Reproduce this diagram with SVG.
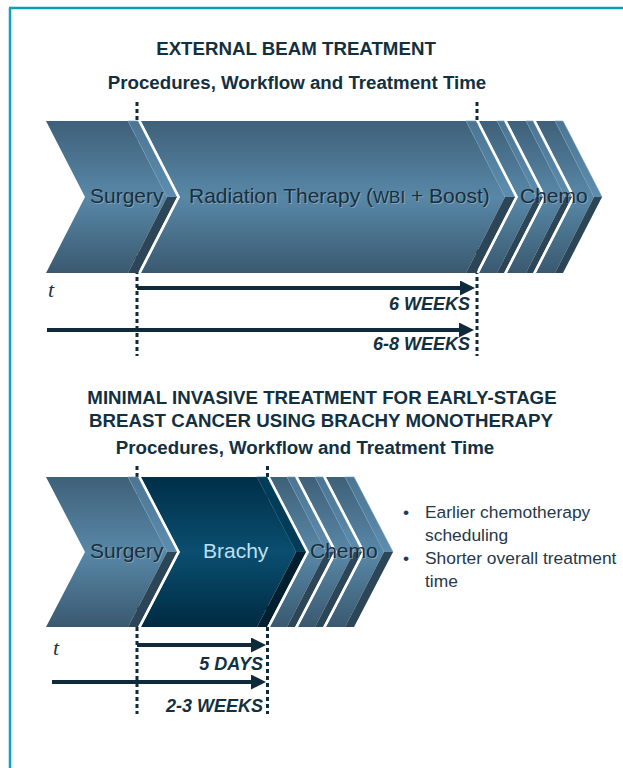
<svg xmlns="http://www.w3.org/2000/svg" width="623" height="768" viewBox="0 0 623 768">
<style>
.title{font-family:"Liberation Sans",Arial,sans-serif;font-weight:bold;font-size:18.7px;fill:#12303f;text-anchor:middle}
.lbl{font-family:"Liberation Sans",Arial,sans-serif;font-size:21px;fill:#1b2e3c}
.shd{font-family:"Liberation Sans",Arial,sans-serif;font-size:21px;fill:#9fbdd0;opacity:0.55}
.dur{font-family:"Liberation Sans",Arial,sans-serif;font-weight:bold;font-style:italic;font-size:18px;fill:#12303f;text-anchor:end}
.tt{font-family:"Liberation Serif","Times New Roman",serif;font-style:italic;font-size:22px;fill:#1e3444}
.bul{font-family:"Liberation Sans",Arial,sans-serif;font-size:17.4px;fill:#26394a}
.face{fill:url(#gFace)}
.up{fill:url(#gUp);stroke:#6f98b4;stroke-width:0.6}
.lo{fill:#2c4557}
.bface{fill:url(#gBr)}
.bup{fill:#033c58;stroke:#0d5573;stroke-width:0.6}
.blo{fill:#00202f}
.gap{fill:none;stroke:#ffffff;stroke-width:2.2}
.dot{stroke:#0f2b3b;stroke-width:3;stroke-dasharray:4 3;fill:none}
.arr{stroke:#0f2b3b;stroke-width:4;fill:none;marker-end:url(#ah)}
</style>
<defs>
<linearGradient id="gFace" x1="0" y1="0" x2="0" y2="1">
<stop offset="0" stop-color="#3f6079"/>
<stop offset="0.5" stop-color="#5888a7"/>
<stop offset="1" stop-color="#3a5970"/>
</linearGradient>
<linearGradient id="gUp" x1="0" y1="0" x2="0" y2="1">
<stop offset="0" stop-color="#4c7592"/>
<stop offset="1" stop-color="#5d8daf"/>
</linearGradient>
<linearGradient id="gBr" x1="0" y1="0" x2="0" y2="1">
<stop offset="0" stop-color="#002f48"/>
<stop offset="0.5" stop-color="#0a4e70"/>
<stop offset="1" stop-color="#002b42"/>
</linearGradient>
<marker id="ah" markerUnits="userSpaceOnUse" markerWidth="16" markerHeight="16" refX="5" refY="7.5" orient="auto">
<path d="M0,0 L15,7.5 L0,15 z" fill="#0f2b3b"/>
</marker>
</defs>
<rect width="623" height="768" fill="#ffffff"/>
<g id="frame">
<line x1="9" y1="8" x2="623" y2="8" stroke="#0b9db5" stroke-width="2.5"/>
<line x1="10" y1="8" x2="10" y2="768" stroke="#0aa5bd" stroke-width="2.5"/>
</g>
<g id="titles">
<text class="title" x="296" y="55">EXTERNAL BEAM TREATMENT</text>
<text class="title" x="297" y="89">Procedures, Workflow and Treatment Time</text>
<text class="title" x="322" y="404">MINIMAL INVASIVE TREATMENT FOR EARLY-STAGE</text>
<text class="title" x="321" y="427">BREAST CANCER USING BRACHY MONOTHERAPY</text>
<text class="title" x="305" y="454">Procedures, Workflow and Treatment Time</text>
</g>
<g id="connectors">
<line class="dot" x1="137" y1="102" x2="137" y2="356"/>
<line class="dot" x1="477" y1="102" x2="477" y2="356"/>
<line class="dot" x1="137" y1="466" x2="137" y2="714"/>
<line class="dot" x1="267.5" y1="466" x2="267.5" y2="714"/>
<line class="arr" x1="137" y1="288" x2="465" y2="288"/>
<line class="arr" x1="47" y1="330" x2="464" y2="330"/>
<line class="arr" x1="137" y1="645" x2="256" y2="645"/>
<line class="arr" x1="52" y1="682" x2="256" y2="682"/>
</g>
<g id="top-surgery">
<polygon class="face" points="46,121 128,121 167,197 128,273 46,273 85,197"/>
<polygon class="up" points="128,121 138,121 177,197 167,197"/>
<polygon class="lo" points="167,197 177,197 138,273 128,273"/>
</g>
<g id="top-radiation">
<polygon class="face" points="141,121 466,121 505,197 466,273 141,273 180,197"/>
<polygon class="up" points="466,121 476,121 515,197 505,197"/>
<polygon class="lo" points="505,197 515,197 476,273 466,273"/>
</g>
<g id="top-chemo">
<polygon class="face" points="479,121 497,121 536,197 497,273 479,273 518,197"/>
<polygon class="up" points="497,121 504,121 543,197 536,197"/>
<polygon class="lo" points="536,197 543,197 504,273 497,273"/>
<polygon class="face" points="507,121 526,121 565,197 526,273 507,273 546,197"/>
<polygon class="up" points="526,121 533,121 572,197 565,197"/>
<polygon class="lo" points="565,197 572,197 533,273 526,273"/>
<polygon class="face" points="536,121 555,121 594,197 555,273 536,273 575,197"/>
<polygon class="up" points="555,121 563,121 602,197 594,197"/>
<polygon class="lo" points="594,197 602,197 563,273 555,273"/>
</g>
<g id="top-gaps">
<polyline class="gap" points="139.5,121 178.5,197 139.5,273"/>
<polyline class="gap" points="477.5,121 516.5,197 477.5,273"/>
<polyline class="gap" points="505.5,121 544.5,197 505.5,273"/>
<polyline class="gap" points="534.5,121 573.5,197 534.5,273"/>
</g>
<g id="top-labels">
<text class="shd" x="91" y="204">Surgery</text>
<text class="lbl" x="90" y="203">Surgery</text>
<text class="shd" x="190" y="204">Radiation Therapy (<tspan font-size="17">WBI</tspan> + Boost)</text>
<text class="lbl" x="189" y="203">Radiation Therapy (<tspan font-size="17">WBI</tspan> + Boost)</text>
<text class="shd" x="521" y="204">Chemo</text>
<text class="lbl" x="520" y="203">Chemo</text>
</g>
<g id="bottom-surgery">
<polygon class="face" points="46,477 128,477 167,552 128,627 46,627 85,552"/>
<polygon class="up" points="128,477 138,477 177,552 167,552"/>
<polygon class="lo" points="167,552 177,552 138,627 128,627"/>
</g>
<g id="bottom-brachy">
<polygon class="bface" points="141,477 257,477 296,552 257,627 141,627 180,552"/>
<polygon class="bup" points="257,477 267,477 306,552 296,552"/>
<polygon class="blo" points="296,552 306,552 267,627 257,627"/>
</g>
<g id="bottom-chemo">
<polygon class="face" points="270,477 287,477 326,552 287,627 270,627 309,552"/>
<polygon class="up" points="287,477 295,477 334,552 326,552"/>
<polygon class="lo" points="326,552 334,552 295,627 287,627"/>
<polygon class="face" points="298,477 315,477 354,552 315,627 298,627 337,552"/>
<polygon class="up" points="315,477 323,477 362,552 354,552"/>
<polygon class="lo" points="354,552 362,552 323,627 315,627"/>
<polygon class="face" points="326,477 345,477 384,552 345,627 326,627 365,552"/>
<polygon class="up" points="345,477 354,477 393,552 384,552"/>
<polygon class="lo" points="384,552 393,552 354,627 345,627"/>
</g>
<g id="bottom-gaps">
<polyline class="gap" points="139.5,477 178.5,552 139.5,627"/>
<polyline class="gap" points="268.5,477 307.5,552 268.5,627"/>
<polyline class="gap" points="296.5,477 335.5,552 296.5,627"/>
<polyline class="gap" points="324.5,477 363.5,552 324.5,627"/>
</g>
<g id="bottom-labels">
<text class="shd" x="91" y="559">Surgery</text>
<text class="lbl" x="90" y="558">Surgery</text>
<text class="lbl" x="203" y="558" style="fill:#bfe0f2">Brachy</text>
<text class="shd" x="311" y="559">Chemo</text>
<text class="lbl" x="310" y="558">Chemo</text>
</g>
<g id="durations">
<text class="tt" x="48" y="297">t</text>
<text class="dur" x="470" y="310">6 WEEKS</text>
<text class="dur" x="470" y="350">6-8 WEEKS</text>
<text class="tt" x="53" y="655">t</text>
<text class="dur" x="263" y="670">5 DAYS</text>
<text class="dur" x="263" y="712">2-3 WEEKS</text>
</g>
<g id="bullets">
<text class="bul" x="403" y="518">•</text>
<text class="bul" x="425" y="518">Earlier chemotherapy</text>
<text class="bul" x="425" y="541">scheduling</text>
<text class="bul" x="403" y="564">•</text>
<text class="bul" x="425" y="564">Shorter overall treatment</text>
<text class="bul" x="425" y="587">time</text>
</g>
</svg>
